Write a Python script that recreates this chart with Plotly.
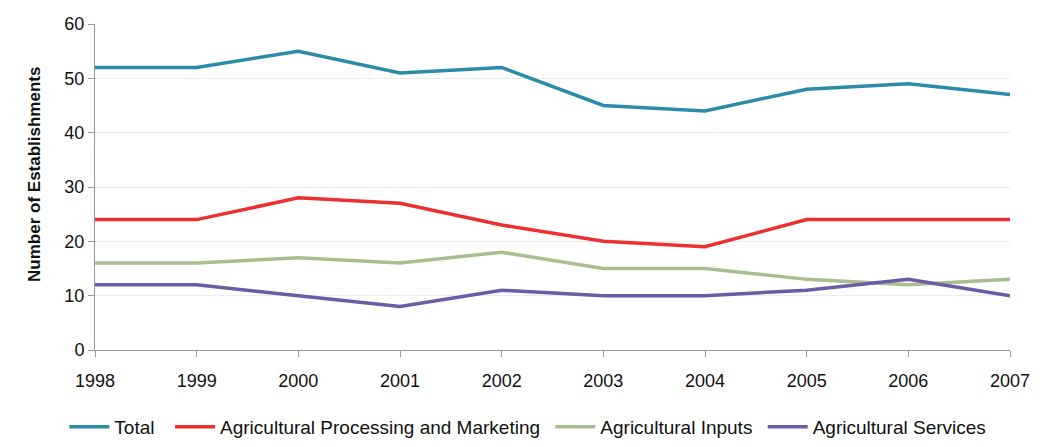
import plotly.graph_objects as go

years = [1998, 1999, 2000, 2001, 2002, 2003, 2004, 2005, 2006, 2007]
total = [52, 52, 55, 51, 52, 45, 44, 48, 49, 47]
processing = [24, 24, 28, 27, 23, 20, 19, 24, 24, 24]
inputs = [16, 16, 17, 16, 18, 15, 15, 13, 12, 13]
services = [12, 12, 10, 8, 11, 10, 10, 11, 13, 10]

series = [
    ("Total", total, "#2B8CA8", "\u00a0\u00a0"),
    ("Agricultural Processing and Marketing", processing, "#EC2F2F", "\u00a0"),
    ("Agricultural Inputs", inputs, "#A9BE8D", "\u00a0"),
    ("Agricultural Services", services, "#6B5CA5", ""),
]

fig = go.Figure()
for name, vals, color, pad in series:
    fig.add_trace(go.Scatter(x=years, y=vals, name=name + pad, mode="lines",
                             line=dict(color=color, width=3.5)))

fig.update_layout(
    width=1035, height=431,
    margin=dict(l=87, r=33, t=16, b=89, autoexpand=False),
    paper_bgcolor="white", plot_bgcolor="white",
    font=dict(family="Liberation Sans, Arial, sans-serif", size=18, color="#111"),
    showlegend=True,
    legend=dict(orientation="h", x=-0.0335, xanchor="left", y=-0.236, yanchor="middle",
                font=dict(size=19), itemwidth=40, tracegroupgap=0,
                bgcolor="rgba(0,0,0,0)"),
    annotations=[dict(text="<b>Number of Establishments</b>", textangle=-90,
                      xref="paper", yref="paper", x=-0.0656, y=0.54,
                      xanchor="center", yanchor="middle", showarrow=False,
                      font=dict(size=17, color="#111"))],
)
fig.update_xaxes(range=[1998, 2007], tickvals=years, ticktext=[str(y) for y in years],
                 showline=True, linecolor="#999", linewidth=1, ticks="outside",
                 ticklen=6, tickcolor="#999", showgrid=False, zeroline=False,
                 tickfont=dict(size=18), automargin=False, ticklabelstandoff=8)
fig.update_yaxes(range=[0, 60], dtick=10, showline=True, linecolor="#999", linewidth=1,
                 ticks="outside", ticklen=6, tickcolor="#999", gridcolor="#ececec",
                 zeroline=False, tickfont=dict(size=18), automargin=False)

fig.write_html("out.html")
